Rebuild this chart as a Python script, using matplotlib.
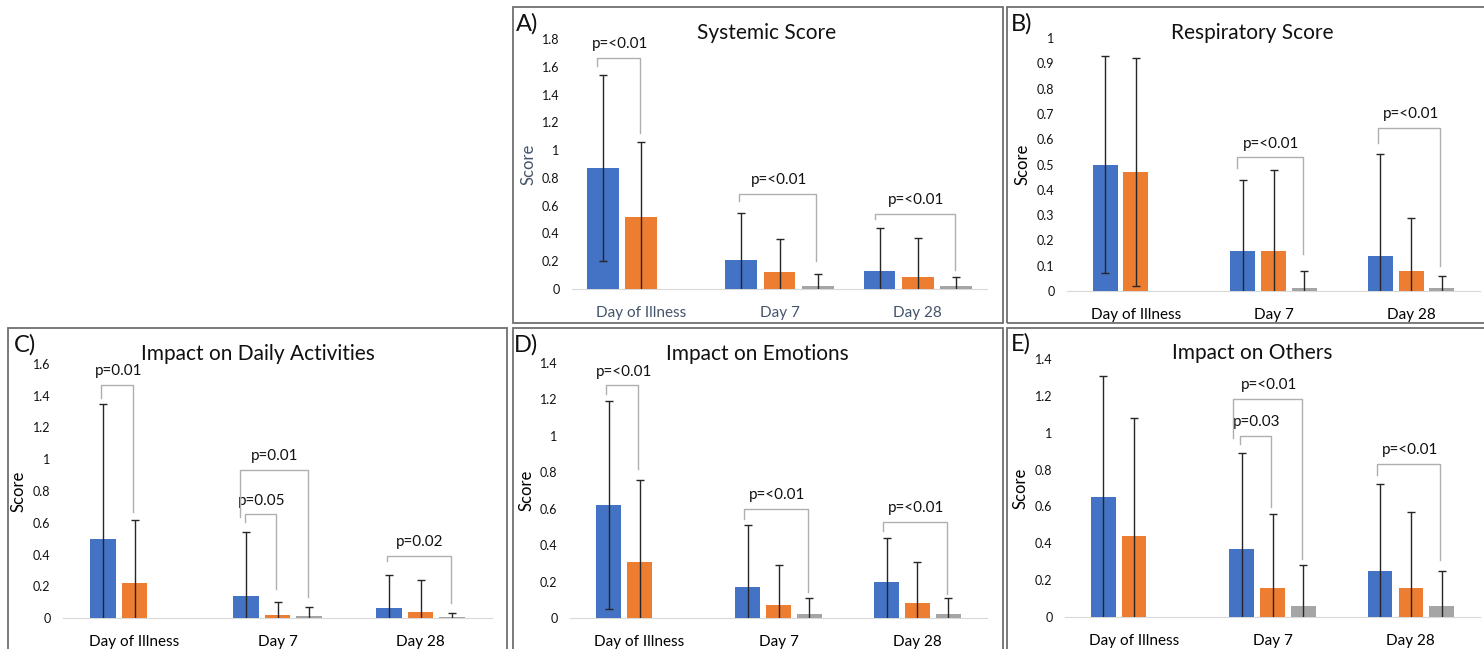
import numpy as np
import matplotlib
matplotlib.use('Agg')
import matplotlib.pyplot as plt
from matplotlib.patches import Rectangle

plt.rcParams['font.family'] = ['Lato', 'DejaVu Sans']

W, H = 1484, 649

categories = ['Day of Illness', 'Day 7', 'Day 28']
nan = np.nan

# means and standard deviations: [blue, orange, gray]
systemic_means = [[0.87, 0.21, 0.13], [0.52, 0.12, 0.09], [nan, 0.02, 0.02]]
systemic_sd = [[0.67, 0.34, 0.31], [0.54, 0.24, 0.28], [nan, 0.09, 0.07]]

respiratory_means = [[0.50, 0.16, 0.14], [0.47, 0.16, 0.08], [nan, 0.01, 0.01]]
respiratory_sd = [[0.43, 0.28, 0.40], [0.45, 0.32, 0.21], [nan, 0.07, 0.05]]

daily_means = [[0.50, 0.14, 0.06], [0.22, 0.02, 0.04], [nan, 0.01, 0.005]]
daily_sd = [[0.85, 0.40, 0.21], [0.40, 0.08, 0.20], [nan, 0.06, 0.025]]

emotions_means = [[0.62, 0.17, 0.20], [0.31, 0.07, 0.08], [nan, 0.02, 0.02]]
emotions_sd = [[0.57, 0.34, 0.24], [0.45, 0.22, 0.23], [nan, 0.09, 0.09]]

others_means = [[0.65, 0.37, 0.25], [0.44, 0.16, 0.16], [nan, 0.06, 0.06]]
others_sd = [[0.66, 0.52, 0.47], [0.64, 0.40, 0.41], [nan, 0.22, 0.19]]

# significance brackets: (category, left bar, right bar, bracket y, left leg end, right leg end, label, left shift)
systemic_p = [(0, 0, 1, 1.663, 1.608, 1.123, 'p=<0.01', -0.03),
              (1, 0, 2, 0.684, 0.631, 0.20, 'p=<0.01', 0.0),
              (2, 0, 2, 0.542, 0.504, 0.14, 'p=<0.01', -0.02)]
respiratory_p = [(1, 0, 2, 0.528, 0.485, 0.148, 'p=<0.01', -0.03),
                 (2, 0, 2, 0.643, 0.584, 0.098, 'p=<0.01', 0.0)]
daily_p = [(0, 0, 1, 1.468, 1.384, 0.669, 'p=0.01', 0.0),
           (1, 0, 2, 0.931, 0.637, 0.132, 'p=0.01', -0.03),
           (1, 0, 1, 0.652, 0.606, 0.185, 'p=0.05', 0.01),
           (2, 0, 2, 0.389, 0.360, 0.095, 'p=0.02', 0.0)]
emotions_p = [(0, 0, 1, 1.277, 1.228, 0.82, 'p=<0.01', 0.0),
              (1, 0, 2, 0.598, 0.545, 0.143, 'p=<0.01', -0.01),
              (2, 0, 2, 0.525, 0.478, 0.134, 'p=<0.01', -0.01)]
others_p = [(1, 0, 2, 1.183, 0.969, 0.317, 'p=<0.01', -0.05),
            (1, 0, 1, 0.983, 0.938, 0.598, 'p=0.03', 0.0),
            (2, 0, 2, 0.830, 0.770, 0.308, 'p=<0.01', -0.01)]

colors = ['#4472C4', '#ED7D31', '#A5A5A5']
text2 = '#44546A'


def px(x, y):
    return x / W, 1 - y / H


# panel layout in pixels: axes box (x0, x1, y_top, y_zero), frame, title, letter
panels = [
    dict(name='A)', title='Systemic Score', means=systemic_means, sd=systemic_sd, p=systemic_p,
         ymax=1.8, step=0.2, box=(572, 987, 39, 289), frame=(513, 7, 1003, 323),
         tpos=(767, 33), lpos=(516, 24), width=0.229, space=0.277, lab_color=text2),
    dict(name='B)', title='Respiratory Score', means=respiratory_means, sd=respiratory_sd, p=respiratory_p,
         ymax=1.0, step=0.1, box=(1067, 1480, 38, 291), frame=(1007, 7, 1495, 323),
         tpos=(1252, 33), lpos=(1011, 24), width=0.18, space=0.223, lab_color='black'),
    dict(name='C)', title='Impact on Daily Activities', means=daily_means, sd=daily_sd, p=daily_p,
         ymax=1.6, step=0.2, box=(63, 492, 364, 618), frame=(8, 328, 507, 665),
         tpos=(258, 354), lpos=(14, 345), width=0.178, space=0.22, lab_color='black'),
    dict(name='D)', title='Impact on Emotions', means=emotions_means, sd=emotions_sd, p=emotions_p,
         ymax=1.4, step=0.2, box=(570, 987, 363, 618), frame=(513, 328, 1003, 665),
         tpos=(757, 354), lpos=(514, 345), width=0.178, space=0.223, lab_color='black'),
    dict(name='E)', title='Impact on Others', means=others_means, sd=others_sd, p=others_p,
         ymax=1.4, step=0.2, box=(1065, 1480, 359, 617), frame=(1007, 328, 1495, 665),
         tpos=(1252, 353), lpos=(1011, 344), width=0.178, space=0.222, lab_color='black'),
]

fig = plt.figure(figsize=(W / 100, H / 100), dpi=100)

for pn in panels:
    x0, x1, yt, yz = pn['box']
    left, bottom = px(x0, yz)
    ax = fig.add_axes([left, bottom, (x1 - x0) / W, (yz - yt) / H])
    x = np.arange(len(categories))
    for i in range(3):
        pos = x + (i - 1) * pn['space']
        ax.bar(pos, pn['means'][i], width=pn['width'], color=colors[i], zorder=2)
        ax.errorbar(pos, pn['means'][i], yerr=pn['sd'][i], fmt='none', ecolor='#262626',
                    elinewidth=1, capsize=3, capthick=1, zorder=3)

    for cat, a, b, yb, ya_end, yb_end, label, dx in pn['p']:
        xa = cat + (a - 1) * pn['space'] - 0.015 + dx
        xb = cat + (b - 1) * pn['space'] - 0.01
        ax.plot([xa, xa, xb, xb], [ya_end, yb, yb, yb_end], color='#AFAFAF', lw=1,
                solid_joinstyle='round', clip_on=False, zorder=4)
        ax.annotate(label, ((xa + xb) / 2, yb), xytext=(1, 10), textcoords='offset points',
                    ha='center', va='center', fontsize=11, color='#111111', annotation_clip=False)

    ax.set_xlim(-0.5, 2.5)
    ax.set_ylim(0, pn['ymax'])
    ticks = np.round(np.arange(0, pn['ymax'] + 1e-9, pn['step']), 2)
    ax.set_yticks(ticks)
    ax.set_yticklabels([f'{t:g}' for t in ticks])
    ax.set_xticks(x)
    ax.set_xticklabels(categories, color=pn['lab_color'])
    ax.tick_params(axis='y', length=0, pad=9, labelsize=9, labelcolor='#111111')
    ax.tick_params(axis='x', length=0, pad=12, labelsize=11)
    for s in ['top', 'right', 'left']:
        ax.spines[s].set_visible(False)
    ax.spines['bottom'].set_color('#D9D9D9')
    ax.spines['bottom'].set_zorder(1)
    ax.set_ylabel('Score', fontsize=12, color=pn['lab_color'])
    ax.yaxis.set_label_coords(-36 / (x1 - x0), 0.5)

    fx0, fy0, fx1, fy1 = pn['frame']
    fl, fb = px(fx0, fy1)
    fig.patches.append(Rectangle((fl, fb), (fx1 - fx0) / W, (fy1 - fy0) / H, transform=fig.transFigure,
                                 fill=False, edgecolor='#707070', lw=1.3))
    tx, ty = px(*pn['tpos'])
    fig.text(tx, ty, pn['title'], ha='center', va='center', fontsize=15, color='#111111')
    lx, ly = px(*pn['lpos'])
    fig.text(lx, ly, pn['name'], ha='left', va='center', fontsize=17, color='#111111')

fig.savefig('out.png', dpi=100)
